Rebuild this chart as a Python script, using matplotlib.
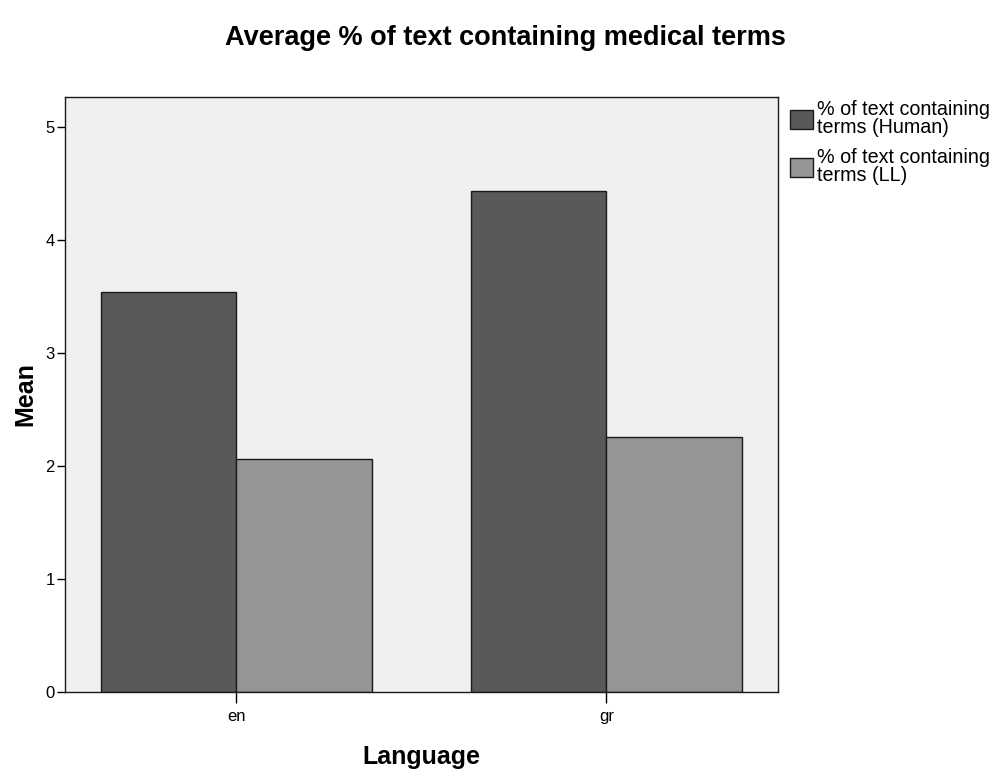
import numpy as np
import matplotlib
matplotlib.use("Agg")
import matplotlib.pyplot as plt

plt.rcParams['font.family'] = ['Liberation Sans', 'DejaVu Sans']

languages = ['en', 'gr']
human = [3.54, 4.44]
llm = [2.06, 2.26]
series_names = ['% of text containing\nterms (Human)', '% of text containing\nterms (LL)']

fig = plt.figure(figsize=(9.95, 7.69), dpi=100)
ax = fig.add_axes([0.065, 0.100, 0.717, 0.774])
ax.set_facecolor('#f0f0f0')

x = np.arange(len(languages))
w = 0.367
b1 = ax.bar(x - w / 2, human, w, color='#595959', edgecolor='#1a1a1a', linewidth=1.0,
            label=series_names[0])
b2 = ax.bar(x + w / 2, llm, w, color='#959595', edgecolor='#1a1a1a', linewidth=1.0,
            label=series_names[1])

ax.set_xlim(-0.464, 1.464)
ax.set_ylim(0, 5.27)
ax.set_yticks([0, 1, 2, 3, 4, 5])
ax.set_xticks(x)
ax.set_xticklabels(languages)
ax.tick_params(axis='y', direction='out', length=6, width=1, labelsize=12, pad=1)
ax.tick_params(axis='x', direction='out', length=8, width=1, labelsize=12, pad=4)
for s in ax.spines.values():
    s.set_linewidth(1.0)
    s.set_color('#1a1a1a')

ax.set_xlabel('Language', fontsize=18, fontweight='bold', labelpad=15)
ax.set_ylabel('Mean', fontsize=18, fontweight='bold', labelpad=6)
fig.suptitle('Average % of text containing medical terms', fontsize=19.5, fontweight='bold',
             x=0.508, y=0.968)

leg = fig.legend(handles=[b1, b2], loc='upper left', bbox_to_anchor=(0.794, 0.870),
                 frameon=False, fontsize=14.2, handlelength=1.15, handleheight=1.1,
                 handletextpad=0.2, labelspacing=0.55, borderaxespad=0, borderpad=0)
for t in leg.get_texts():
    t.set_linespacing(0.95)

fig.savefig('out.png', dpi=100)
